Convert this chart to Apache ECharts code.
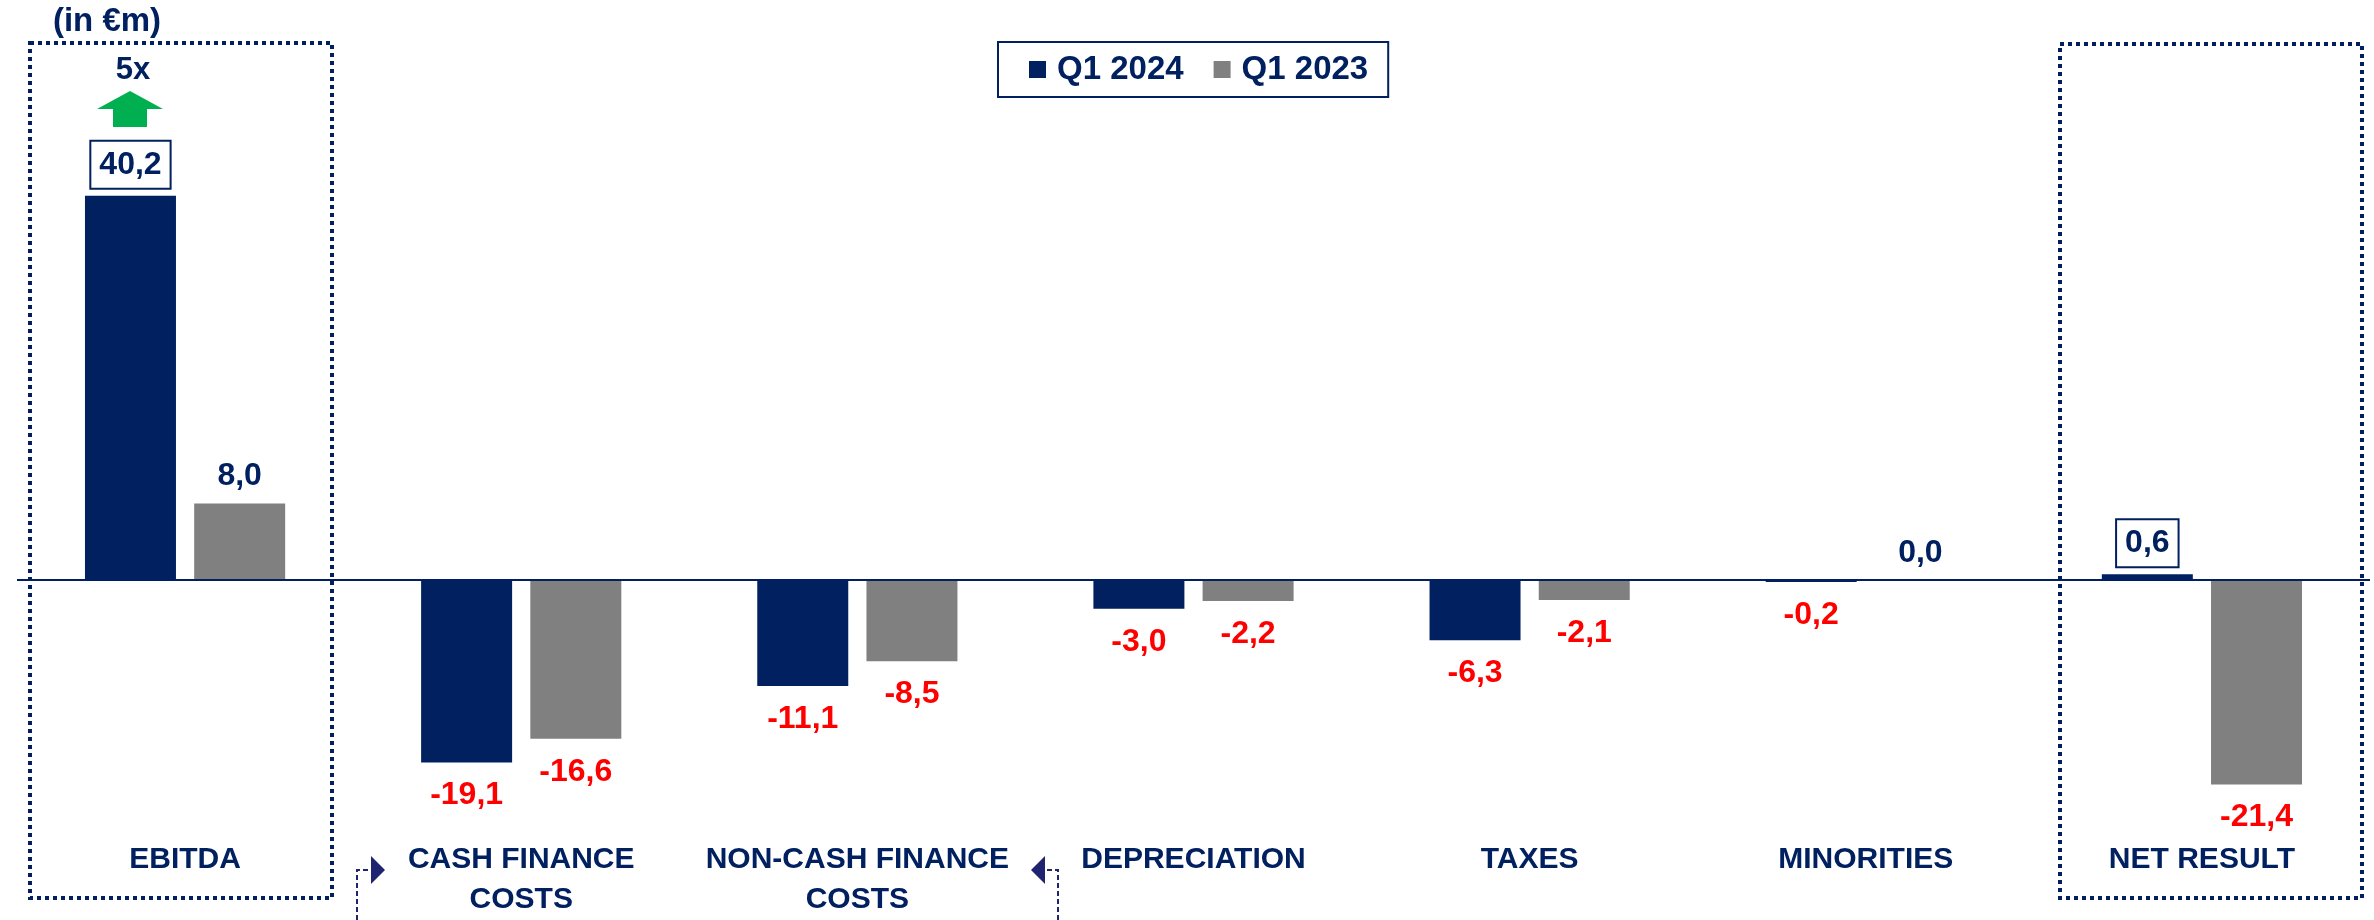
<!DOCTYPE html>
<html>
<head>
<meta charset="utf-8">
<title>Q1 2024 vs Q1 2023</title>
<script src="https://cdn.jsdelivr.net/npm/echarts@6/dist/echarts.min.js"></script>
<style>
  html, body { margin: 0; padding: 0; background: #fff; }
  #chart { width: 2374px; height: 920px; }
</style>
</head>
<body>
<div id="chart"></div>
<script>
// data (in €m)
const categories = ['EBITDA', 'CASH FINANCE\nCOSTS', 'NON-CASH FINANCE\nCOSTS', 'DEPRECIATION', 'TAXES', 'MINORITIES', 'NET RESULT']
const q1_2024 = [40.2, -19.1, -11.1, -3.0, -6.3, -0.2, 0.6]
const q1_2023 = [8.0, -16.6, -8.5, -2.2, -2.1, 0.0, -21.4]
const seriesNames = ['Q1 2024', 'Q1 2023']
// categories whose Q1 2024 value gets a framed label
const boxedCategories = ['EBITDA', 'NET RESULT']

const NAVY = '#002060'
const GREY = '#808080'
const RED = '#FF0000'
const FONT = '"Liberation Sans", Arial, sans-serif'

function fmt(v) {
  return v.toFixed(1).replace('.', ',')
}

function labelFor(v, boxed) {
  if (boxed) {
    return {
      position: 'top', distance: 8, color: NAVY,
      borderColor: NAVY, borderWidth: 2, padding: [7, 8], backgroundColor: '#fff'
    }
  }
  if (v < 0) {
    return { position: 'bottom', distance: 17, color: RED }
  }
  return { position: 'top', distance: 11, color: NAVY }
}

function buildData(values, withBox) {
  return values.map((v, i) => ({
    value: v,
    label: labelFor(v, withBox && boxedCategories.indexOf(categories[i]) >= 0)
  }))
}

const chart = echarts.init(document.getElementById('chart'))

const valueLabel = { show: true, fontSize: 32, fontWeight: 'bold', fontFamily: FONT, formatter: p => fmt(p.value) }

chart.setOption({
  animation: false,
  textStyle: { fontFamily: FONT },
  legend: {
    left: 998,
    top: 42,
    icon: 'rect',
    itemWidth: 17,
    itemHeight: 17,
    itemGap: 30,
    borderColor: NAVY,
    borderWidth: 2,
    padding: [11, 20, 11, 31],
    textStyle: { fontSize: 33, fontWeight: 'bold', color: NAVY, fontFamily: FONT, padding: [0, 0, 0, 6] },
    data: seriesNames
  },
  grid: { left: 17, right: 4, top: 102, bottom: 96.5 },
  xAxis: {
    type: 'category',
    data: categories,
    axisLine: { show: false, onZero: false },
    axisTick: { show: false },
    axisLabel: {
      interval: 0,
      margin: 21,
      fontSize: 30,
      lineHeight: 40,
      fontWeight: 'bold',
      color: NAVY,
      fontFamily: FONT
    }
  },
  yAxis: {
    type: 'value',
    min: -25,
    max: 50,
    show: false,
    splitLine: { show: false }
  },
  series: [
    {
      name: seriesNames[0],
      type: 'bar',
      barWidth: 91,
      barGap: '20%',
      itemStyle: { color: NAVY },
      label: valueLabel,
      data: buildData(q1_2024, true),
      markLine: {
        silent: true,
        symbol: 'none',
        label: { show: false },
        lineStyle: { color: NAVY, width: 2, type: 'solid' },
        data: [{ yAxis: 0 }]
      }
    },
    {
      name: seriesNames[1],
      type: 'bar',
      barWidth: 91,
      barGap: '20%',
      itemStyle: { color: GREY },
      label: valueLabel,
      data: buildData(q1_2023, false)
    }
  ],
  graphic: [
    // unit note
    {
      type: 'text', x: 107, y: 22,
      style: { text: '(in €m)', font: 'bold 33px ' + FONT, fill: NAVY, align: 'center', verticalAlign: 'middle', textAlign: 'center', textVerticalAlign: 'middle' }
    },
    // growth callout above EBITDA
    {
      type: 'text', x: 133, y: 70,
      style: { text: '5x', font: 'bold 31px ' + FONT, fill: NAVY, align: 'center', verticalAlign: 'middle', textAlign: 'center', textVerticalAlign: 'middle' }
    },
    {
      type: 'polygon',
      shape: { points: [[97, 109], [130, 91], [163, 109], [147, 109], [147, 127], [113, 127], [113, 109]] },
      style: { fill: '#00B050' }
    },
    // dotted frames
    {
      type: 'rect',
      shape: { x: 30, y: 43, width: 302, height: 855 },
      style: { fill: 'none', stroke: NAVY, lineWidth: 4, lineDash: [4, 4] }
    },
    {
      type: 'rect',
      shape: { x: 2060, y: 44, width: 302, height: 854 },
      style: { fill: 'none', stroke: NAVY, lineWidth: 4, lineDash: [4, 4] }
    },
    // dashed brackets linking the two finance cost categories
    {
      type: 'polyline',
      shape: { points: [[357, 920], [357, 870], [371, 870]] },
      style: { fill: 'none', stroke: '#1F2470', lineWidth: 2, lineDash: [5, 3] }
    },
    {
      type: 'polygon',
      shape: { points: [[371, 856], [385, 870], [371, 884]] },
      style: { fill: '#1F2470' }
    },
    {
      type: 'polyline',
      shape: { points: [[1058, 920], [1058, 870], [1045, 870]] },
      style: { fill: 'none', stroke: '#1F2470', lineWidth: 2, lineDash: [5, 3] }
    },
    {
      type: 'polygon',
      shape: { points: [[1045, 856], [1031, 870], [1045, 884]] },
      style: { fill: '#1F2470' }
    }
  ]
})
</script>
</body>
</html>
